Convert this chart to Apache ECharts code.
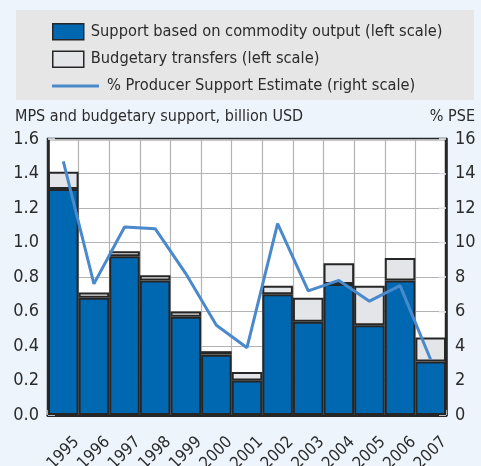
<!DOCTYPE html>
<html>
<head>
<meta charset="utf-8">
<script src="https://cdn.jsdelivr.net/npm/echarts@6/dist/echarts.min.js"></script>
<style>
  html, body { margin: 0; padding: 0; background: #EDF4FC; }
  #chart { width: 481px; height: 466px; }
</style>
</head>
<body>
<div id="chart"></div>
<script>
// Market price support vs budgetary transfers, with the %PSE on a second scale
const years = ['1995','1996','1997','1998','1999','2000','2001','2002','2003','2004','2005','2006','2007'];
const commodityOutput = [1.31, 0.68, 0.92, 0.78, 0.57, 0.35, 0.20, 0.70, 0.54, 0.76, 0.52, 0.78, 0.31];
const budgetaryTransfers = [0.10, 0.03, 0.03, 0.03, 0.03, 0.02, 0.05, 0.05, 0.14, 0.12, 0.23, 0.13, 0.14];
const pse = [14.7, 7.6, 10.9, 10.8, 8.2, 5.2, 3.9, 11.1, 7.2, 7.8, 6.6, 7.5, 3.2];
const leftTicks = { min: 0, max: 1.6, interval: 0.2 };
const rightTicks = { min: 0, max: 16, interval: 2 };

const FONT = '"Liberation Sans Narrow", "DejaVu Sans Condensed", "Liberation Sans", sans-serif';
const TEXT = '#2b2b2b';
const BORDER = '#262626';

const chart = echarts.init(document.getElementById('chart'), null, { renderer: 'canvas' });

chart.setOption({
  backgroundColor: '#EDF4FC',
  animation: false,
  textStyle: { fontFamily: FONT },
  graphic: [
    { type: 'rect', shape: { x: 16, y: 10, width: 458, height: 90 }, style: { fill: '#E6E6E6' }, z: -1 },
    { type: 'text', left: 15, top: 109, style: { text: 'MPS and budgetary support, billion USD', font: '16px ' + FONT, fill: TEXT } },
    { type: 'text', right: 6, top: 109, style: { text: '% PSE', font: '16px ' + FONT, fill: TEXT } }
  ],
  legend: [
    {
      data: ['Support based on commodity output (left scale)', 'Budgetary transfers (left scale)'],
      orient: 'vertical', left: 47, top: 18,
      icon: 'rect', itemWidth: 31, itemHeight: 16, itemGap: 10,
      itemStyle: { borderColor: BORDER, borderWidth: 1.5 },
      textStyle: { fontFamily: FONT, fontSize: 16.3, lineHeight: 16, color: TEXT, padding: [0, 0, 0, 2] },
      selectedMode: false
    },
    {
      data: ['% Producer Support Estimate (right scale)'],
      orient: 'vertical', left: 47, top: 73,
      icon: 'rect', itemWidth: 47, itemHeight: 3,
      itemStyle: { borderWidth: 0 },
      textStyle: { fontFamily: FONT, fontSize: 16.3, lineHeight: 16, color: TEXT, padding: [0, 0, 0, 3] },
      selectedMode: false
    }
  ],
  grid: {
    left: 48, right: 35, top: 139, bottom: 51,
    outerBoundsMode: 'none', containLabel: false,
    show: true, backgroundColor: '#ffffff', borderColor: BORDER, borderWidth: 2.5
  },
  xAxis: {
    type: 'category', data: years, boundaryGap: true,
    axisLine: { show: true, lineStyle: { color: BORDER, width: 3 } },
    axisTick: { show: true, inside: true, length: 5, lineStyle: { color: '#d8d8d8', width: 1.5 } },
    splitLine: { show: true, lineStyle: { color: '#b3b3b3', width: 1.2 } },
    axisLabel: {
      interval: 0, rotate: 45, align: 'center', verticalAlign: 'middle',
      fontFamily: FONT, fontSize: 16.5, color: TEXT, margin: 38
    }
  },
  yAxis: [
    {
      type: 'value', position: 'left', min: leftTicks.min, max: leftTicks.max, interval: leftTicks.interval,
      axisLine: { show: true, lineStyle: { color: BORDER, width: 2.5 } },
      axisTick: { show: true, inside: true, length: 7, lineStyle: { color: '#e8eef8', width: 1.5 } },
      splitLine: { show: true, lineStyle: { color: '#b3b3b3', width: 1.2 } },
      axisLabel: { formatter: v => v.toFixed(1), fontFamily: FONT, fontSize: 18, color: TEXT, margin: 9 }
    },
    {
      type: 'value', position: 'right', min: rightTicks.min, max: rightTicks.max, interval: rightTicks.interval,
      axisLine: { show: true, lineStyle: { color: BORDER, width: 2.5 } },
      axisTick: { show: true, inside: true, length: 7, lineStyle: { color: '#e8eef8', width: 1.5 } },
      splitLine: { show: false },
      axisLabel: { fontFamily: FONT, fontSize: 18, color: TEXT, margin: 9 }
    }
  ],
  series: [
    {
      name: 'Support based on commodity output (left scale)',
      type: 'bar', stack: 'support', data: commodityOutput, barCategoryGap: 0,
      itemStyle: { color: '#0067B1', borderColor: BORDER, borderWidth: 2 }
    },
    {
      name: 'Budgetary transfers (left scale)',
      type: 'bar', stack: 'support', data: budgetaryTransfers, barCategoryGap: 0,
      itemStyle: { color: '#E4E5E8', borderColor: BORDER, borderWidth: 2 }
    },
    {
      name: '% Producer Support Estimate (right scale)',
      type: 'line', yAxisIndex: 1, data: pse, showSymbol: false, symbol: 'none',
      lineStyle: { color: '#4A89CC', width: 3 }, itemStyle: { color: '#4A89CC' }, z: 5
    }
  ]
});
</script>
</body>
</html>
